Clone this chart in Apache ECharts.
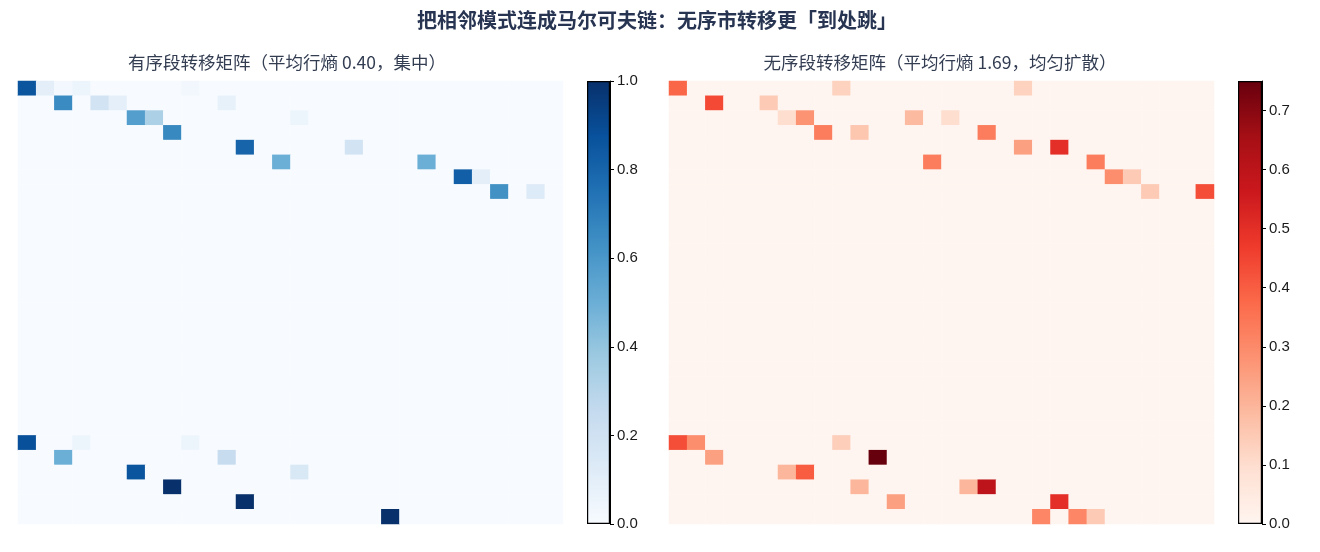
<!DOCTYPE html>
<html>
<head>
<meta charset="utf-8">
<script src="https://cdn.jsdelivr.net/npm/echarts@6/dist/echarts.min.js"></script>
<style>
  html, body { margin: 0; padding: 0; background: #fff; }
  #root { width: 1320px; height: 552px; }
</style>
</head>
<body>
<div id="root"></div>
<script>
// 状态数量（30x30 转移矩阵）
var STATES = 30;
// 色标上限
var ORDERED_MAX = 1.0;
var DISORDERED_MAX = 0.75;

// 有序段转移矩阵非零项 [行, 列, 概率]
var orderedCells = [
  [0, 0, 0.86], [0, 1, 0.10], [0, 2, 0.02], [0, 3, 0.05], [0, 9, 0.03],
  [1, 2, 0.65], [1, 4, 0.19], [1, 5, 0.09], [1, 11, 0.08],
  [2, 6, 0.57], [2, 7, 0.33], [2, 15, 0.05],
  [3, 8, 0.66],
  [4, 12, 0.80], [4, 18, 0.19],
  [5, 14, 0.50], [5, 22, 0.50],
  [6, 24, 0.82], [6, 25, 0.10],
  [7, 26, 0.63], [7, 28, 0.13],
  [24, 0, 0.88], [24, 3, 0.05], [24, 9, 0.05],
  [25, 2, 0.50], [25, 11, 0.24],
  [26, 6, 0.86], [26, 15, 0.15],
  [27, 8, 1.00],
  [28, 12, 1.00],
  [29, 20, 1.00]
];

// 无序段转移矩阵非零项 [行, 列, 概率]
var disorderedCells = [
  [0, 0, 0.38], [0, 9, 0.13], [0, 19, 0.13],
  [1, 2, 0.44], [1, 5, 0.15],
  [2, 6, 0.10], [2, 7, 0.28], [2, 13, 0.19], [2, 15, 0.10],
  [3, 8, 0.33], [3, 10, 0.16], [3, 17, 0.33],
  [4, 19, 0.25], [4, 21, 0.50],
  [5, 14, 0.33], [5, 23, 0.33],
  [6, 24, 0.29], [6, 25, 0.15],
  [7, 26, 0.15], [7, 29, 0.43],
  [24, 0, 0.43], [24, 1, 0.29], [24, 9, 0.14],
  [25, 2, 0.25], [25, 11, 0.75],
  [26, 6, 0.20], [26, 7, 0.40],
  [27, 10, 0.20], [27, 16, 0.20], [27, 17, 0.60],
  [28, 12, 0.25], [28, 21, 0.50],
  [29, 20, 0.31], [29, 22, 0.31], [29, 23, 0.15]
];

// 色表（matplotlib Blues / Reds）
var BLUES = ['#f7fbff', '#deebf7', '#c6dbef', '#9ecae1', '#6baed6', '#4292c6', '#2171b5', '#08519c', '#08306b'];
var REDS = ['#fff5f0', '#fee0d2', '#fcbba1', '#fc9272', '#fb6a4a', '#ef3b2c', '#cb181d', '#a50f15', '#67000d'];

var TEXT_FONT = "'Noto Sans CJK SC', sans-serif";
var NUM_FONT = "'Liberation Sans', 'DejaVu Sans', sans-serif";

var states = [];
for (var i = 0; i < STATES; i++) states.push(String(i));

// 展开成完整矩阵，零值也要画（底色）
function buildMatrix(cells) {
  var m = {};
  for (var k = 0; k < cells.length; k++) {
    m[cells[k][0] + '_' + cells[k][1]] = cells[k][2];
  }
  var out = [];
  for (var r = 0; r < STATES; r++) {
    for (var c = 0; c < STATES; c++) {
      var v = m[r + '_' + c];
      out.push([c, r, v == null ? 0 : v]);
    }
  }
  return out;
}

function gradient(colors) {
  var stops = [];
  for (var i = 0; i < colors.length; i++) {
    stops.push({ offset: i / (colors.length - 1), color: colors[i] });
  }
  return new echarts.graphic.LinearGradient(0, 1, 0, 0, stops);
}

function heatAxisX(gridIndex) {
  return { type: 'category', data: states, gridIndex: gridIndex, show: false };
}
function heatAxisY(gridIndex) {
  return { type: 'category', data: states, gridIndex: gridIndex, inverse: true, show: false };
}

function barAxisY(gridIndex, max, interval) {
  return {
    type: 'value', gridIndex: gridIndex, min: 0, max: max, interval: interval,
    position: 'right',
    splitLine: { show: false },
    axisLine: { show: true, lineStyle: { color: '#000', width: 1 } },
    axisTick: { show: true, length: 4, lineStyle: { color: '#000', width: 1 } },
    axisLabel: {
      showMaxLabel: max === 1, margin: 7,
      fontFamily: NUM_FONT, fontSize: 15, color: '#1a1a1a',
      formatter: function (v) { return v.toFixed(1); }
    }
  };
}

var myChart = echarts.init(document.getElementById('root'));

var option = {
  backgroundColor: '#fff',
  animation: false,
  title: [
    {
      text: '把相邻模式连成马尔可夫链：无序市转移更「到处跳」',
      left: 657, top: 10, textAlign: 'center', padding: 0,
      textStyle: { fontFamily: TEXT_FONT, fontSize: 20, fontWeight: 'bold', color: '#283552' }
    },
    {
      text: '有序段转移矩阵（平均行熵 0.40，集中）',
      left: 287, top: 54, textAlign: 'center', padding: 0,
      textStyle: { fontFamily: TEXT_FONT, fontSize: 17.5, fontWeight: 'normal', color: '#333d52' }
    },
    {
      text: '无序段转移矩阵（平均行熵 1.69，均匀扩散）',
      left: 940, top: 54, textAlign: 'center', padding: 0,
      textStyle: { fontFamily: TEXT_FONT, fontSize: 17.5, fontWeight: 'normal', color: '#333d52' }
    }
  ],
  grid: [
    { left: 18, top: 81, width: 545, height: 443 },
    { left: 669, top: 81, width: 545, height: 443 },
    { left: 587, top: 81, width: 23, height: 443 },
    { left: 1238, top: 81, width: 24, height: 443 }
  ],
  xAxis: [
    heatAxisX(0),
    heatAxisX(1),
    { type: 'category', data: ['c'], gridIndex: 2, show: false },
    { type: 'category', data: ['c'], gridIndex: 3, show: false }
  ],
  yAxis: [
    heatAxisY(0),
    heatAxisY(1),
    barAxisY(2, ORDERED_MAX, 0.2),
    barAxisY(3, DISORDERED_MAX, 0.1)
  ],
  visualMap: [
    { type: 'continuous', show: false, seriesIndex: 0, min: 0, max: ORDERED_MAX, inRange: { color: BLUES } },
    { type: 'continuous', show: false, seriesIndex: 1, min: 0, max: DISORDERED_MAX, inRange: { color: REDS } }
  ],
  series: [
    {
      type: 'heatmap', xAxisIndex: 0, yAxisIndex: 0,
      data: buildMatrix(orderedCells),
      emphasis: { disabled: true }, silent: true
    },
    {
      type: 'heatmap', xAxisIndex: 1, yAxisIndex: 1,
      data: buildMatrix(disorderedCells),
      emphasis: { disabled: true }, silent: true
    },
    {
      type: 'bar', xAxisIndex: 2, yAxisIndex: 2,
      data: [ORDERED_MAX], barWidth: '100%', silent: true,
      itemStyle: { color: gradient(BLUES), borderColor: '#000', borderWidth: 1.2 }
    },
    {
      type: 'bar', xAxisIndex: 3, yAxisIndex: 3,
      data: [DISORDERED_MAX], barWidth: '100%', silent: true,
      itemStyle: { color: gradient(REDS), borderColor: '#000', borderWidth: 1.2 }
    }
  ]
};

myChart.setOption(option);
</script>
</body>
</html>
